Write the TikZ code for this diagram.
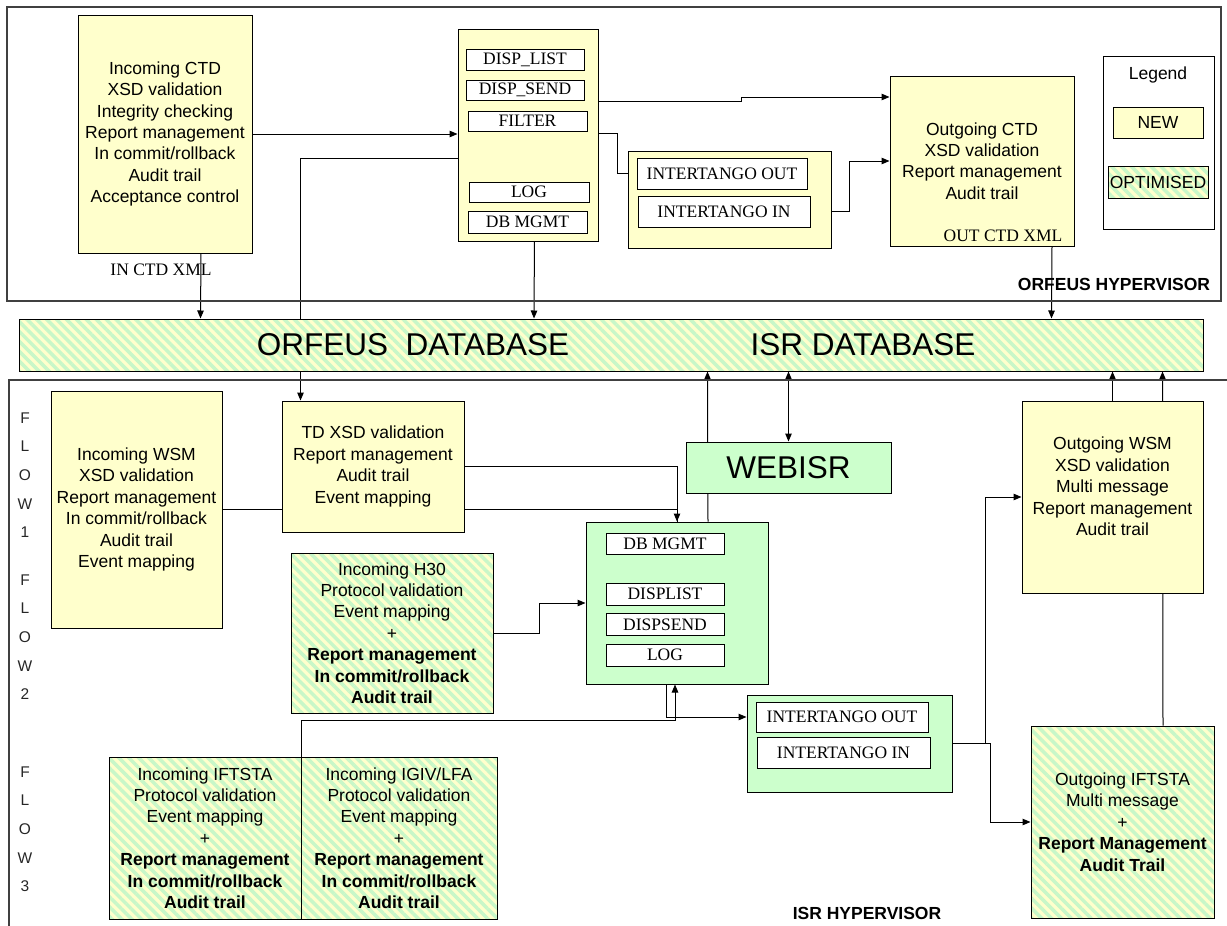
\documentclass[tikz,border=0pt]{standalone}
\usepackage{fontspec}
\setmainfont{Liberation Sans}
\newfontfamily\timesfont{Liberation Serif}
\usetikzlibrary{arrows.meta,positioning,calc,backgrounds,patterns.meta}
\definecolor{newyellow}{RGB}{255,255,204}
\definecolor{isrgreen}{RGB}{204,255,204}
\definecolor{stripegreen}{RGB}{200,247,200}
\definecolor{framegray}{RGB}{64,64,64}
\newcommand{\boxfont}{\fontsize{17.5}{21.4}\selectfont}
\newcommand{\modfont}{\timesfont\fontsize{17.5}{20}\selectfont}
\newcommand{\bigfont}{\fontsize{31.5}{36}\selectfont}

\begin{document}
\begin{tikzpicture}[
    x=1pt, y=-1pt,
    box/.style={draw,line width=1pt,inner sep=0pt,align=center,font=\boxfont},
    newbox/.style={box,fill=newyellow},
    isrbox/.style={box,fill=isrgreen},
    optbox/.style={box,preaction={fill=newyellow},pattern={Lines[angle=-45,distance=7pt,line width=3.5pt]},pattern color=stripegreen},
    modbox/.style={draw,line width=1pt,fill=white,inner sep=0pt,font=\modfont},
    lbl/.style={inner sep=0pt,font=\boxfont},
    flowtxt/.style={inner sep=0pt,font=\fontsize{15.5}{17}\selectfont,text=black!85},
    frame/.style={draw=framegray,line width=1.3pt},
    arrow/.style={-{Triangle[length=8pt,width=6.5pt]},line width=1pt},
    twoway/.style={{Triangle[length=8pt,width=6.5pt]}-{Triangle[length=8pt,width=6.5pt]},line width=1pt}
]
    \useasboundingbox (0,0) rectangle (1227,926);

    % ORFEUS hypervisor
    \draw[frame] (7,7) rectangle (1221,301);
    \node[newbox,minimum width=174pt,minimum height=238pt] (inctd) at (165,134) {Incoming CTD\\XSD validation\\Integrity checking\\Report management\\In commit/rollback\\Audit trail\\Acceptance control};
    \node[lbl,font=\modfont] (inxml) at (161,270) {IN CTD XML};

    \node[newbox,minimum width=140pt,minimum height=212pt] (disp) at (528,135) {};
    \node[modbox,minimum width=118pt,minimum height=21pt] (displist) at (525,59.5) {DISP\_LIST};
    \node[modbox,minimum width=118pt,minimum height=20pt] (dispsend) at (525,90) {DISP\_SEND};
    \node[modbox,minimum width=119pt,minimum height=20pt] (filter) at (527.5,121) {FILTER};
    \node[modbox,minimum width=120pt,minimum height=20pt] (log) at (529,192) {LOG};
    \node[modbox,minimum width=119pt,minimum height=22pt] (dbmgmt) at (527.5,222) {DB MGMT};

    \node[newbox,minimum width=203pt,minimum height=97pt] (ittop) at (729.5,199.5) {};
    \node[modbox,minimum width=170pt,minimum height=31pt] (itout) at (722,173.5) {INTERTANGO OUT};
    \node[modbox,minimum width=172pt,minimum height=31pt] (itin) at (724,211.5) {INTERTANGO IN};

    \node[newbox,minimum width=184pt,minimum height=170pt] (outctd) at (982,161) {Outgoing CTD\\XSD validation\\Report management\\Audit trail};
    \node[lbl,font=\modfont] (outxml) at (1003,236) {OUT CTD XML};

    % Legend
    \node[draw,line width=1pt,minimum width=111pt,minimum height=173pt] (legend) at (1158.5,142.5) {};
    \node[lbl] (legtitle) at (1158,75) {Legend};
    \node[newbox,minimum width=90pt,minimum height=31pt] (legnew) at (1158,122.5) {NEW};
    \node[optbox,minimum width=100pt,minimum height=32pt] (legopt) at (1158,182) {OPTIMISED};

    \node[lbl,font=\boxfont\bfseries] (orfeushv) at (1114,284) {ORFEUS HYPERVISOR};

    % Databases
    \node[optbox,minimum width=1184pt,minimum height=52pt] (db) at (611,345) {};
    \node[lbl,font=\bigfont] (orfeusdb) at (413,345) {ORFEUS\ \ DATABASE};
    \node[lbl,font=\bigfont] (isrdb) at (863,345) {ISR DATABASE};

    % ISR hypervisor
    \draw[frame] (9,926) -- (9,380) -- (1227,380);
    \foreach \ch [count=\i] in {F,L,O,W,1}
        \node[flowtxt] (flowa\i) at (25,{418+28.6*(\i-1)}) {\ch};
    \foreach \ch [count=\i] in {F,L,O,W,2}
        \node[flowtxt] (flowb\i) at (25,{580+28.6*(\i-1)}) {\ch};
    \foreach \ch [count=\i] in {F,L,O,W,3}
        \node[flowtxt] (flowc\i) at (25,{772+28.6*(\i-1)}) {\ch};

    \node[newbox,minimum width=171pt,minimum height=237pt] (wsmin) at (136.5,509.5) {Incoming WSM\\XSD validation\\Report management\\In commit/rollback\\Audit trail\\Event mapping};
    \node[newbox,minimum width=182pt,minimum height=131pt] (tdxsd) at (373,466.5) {TD XSD validation\\Report management\\Audit trail\\Event mapping};
    \node[isrbox,minimum width=205pt,minimum height=51pt,font=\bigfont] (webisr) at (788.5,467.5) {WEBISR};

    \node[isrbox,minimum width=182pt,minimum height=162pt] (isrdisp) at (677,603) {};
    \node[modbox,minimum width=118pt,minimum height=21pt] (isrmgmt) at (665,543.5) {DB MGMT};
    \node[modbox,minimum width=118pt,minimum height=22pt] (isrlist) at (665,594) {DISPLIST};
    \node[modbox,minimum width=118pt,minimum height=22pt] (isrsend) at (665,624.5) {DISPSEND};
    \node[modbox,minimum width=118pt,minimum height=22pt] (isrlog) at (665,655) {LOG};

    \node[optbox,minimum width=202pt,minimum height=160pt] (h30) at (392,633) {Incoming H30\\Protocol validation\\Event mapping\\+\\\textbf{Report management}\\\textbf{In commit/rollback}\\\textbf{Audit trail}};
    \node[optbox,minimum width=192pt,minimum height=162pt] (iftsta) at (205,838) {Incoming IFTSTA\\Protocol validation\\Event mapping\\+\\\textbf{Report management}\\\textbf{In commit/rollback}\\\textbf{Audit trail}};
    \node[optbox,minimum width=196pt,minimum height=162pt] (igiv) at (399,838) {Incoming IGIV/LFA\\Protocol validation\\Event mapping\\+\\\textbf{Report management}\\\textbf{In commit/rollback}\\\textbf{Audit trail}};

    \node[isrbox,minimum width=205pt,minimum height=97pt] (itisr) at (849.5,743.5) {};
    \node[modbox,minimum width=172pt,minimum height=30pt] (itisrout) at (842,717) {INTERTANGO OUT};
    \node[modbox,minimum width=173pt,minimum height=31pt] (itisrin) at (843.5,752.5) {INTERTANGO IN};

    \node[newbox,minimum width=181pt,minimum height=192pt] (outwsm) at (1112.5,497) {Outgoing WSM\\XSD validation\\Multi message\\Report management\\Audit trail\\~};
    \node[optbox,minimum width=183pt,minimum height=192pt] (outift) at (1122.5,822) {Outgoing IFTSTA\\Multi message\\+\\\textbf{Report Management}\\\textbf{Audit Trail}};

    \node[lbl,font=\boxfont\bfseries] (isrhv) at (867,913) {ISR HYPERVISOR};

    % Connectors, kept under the boxes
    \begin{scope}[on background layer]
        \draw[arrow] (inctd.east) -- (inctd.east -| disp.west);
        \draw[arrow] ($(disp.west)+(0,23)$) -| ($(tdxsd.north west)+(19,0)$);
        \draw[arrow] ($(inctd.south)+(36,0)$) -- ($(db.north west)+(182,0)$);
        \draw[arrow] ($(dbmgmt.south)+(7,0)$) -- ($(db.north west)+(515.5,0)$);
        \draw[arrow] ($(disp.east)+(0,-34)$) -- ++(143,0) |- ($(outctd.west)+(0,-64)$);
        \draw[arrow] ($(disp.east)+(0,-2)$) -- ++(19,0) |- (itout.west);
        \draw[arrow] (itin.east) -- ++(39,0) |- (outctd.west);
        \draw[arrow] ($(outctd.south)+(70,0)$) -- ($(db.north west)+(1033,0)$);

        \draw (wsmin.east) -- (tdxsd.west |- wsmin.east);
        \draw[arrow] (tdxsd.east) -| (isrdisp.north);
        \draw ($(tdxsd.east)+(0,43)$) -| (isrdisp.north);
        \draw[arrow] (h30.east) -- ++(46,0) |- (isrdisp.west);
        \draw[arrow] (iftsta.north east) -- ++(0,-36) -| ($(isrdisp.south)+(-2,0)$);
        \draw[arrow] ($(isrdisp.south)+(-11,0)$) |- (itisr.west |- itisrout.west);
        \draw[arrow] (itisr.east) -- ++(33,0) |- (outwsm.west);
        \draw[arrow] (itisr.east) -- ++(38,0) |- (outift.west);

        \draw[arrow] ($(isrdisp.north)+(31,0)$) -- ($(db.south west)+(689,0)$);
        \draw[twoway] (webisr.north) -- (webisr.north |- db.south);
        \draw[arrow] (outwsm.north) -- (outwsm.north |- db.south);
        \draw[arrow] ($(outift.north)+(40.5,0)$) -- ($(db.south west)+(1144,0)$);
    \end{scope}
\end{tikzpicture}
\end{document}
